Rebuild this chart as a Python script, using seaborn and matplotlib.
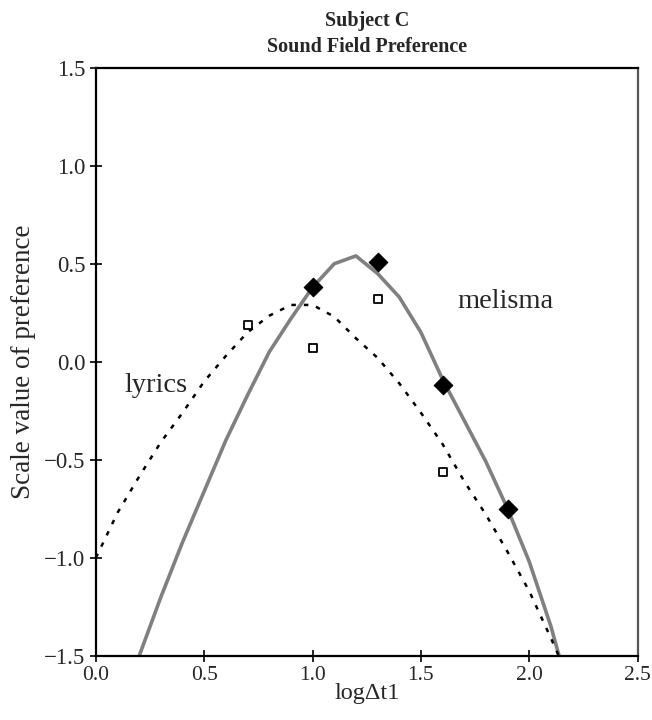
#Subject C - sound field preference
#Import required libraries
import numpy as np
import pandas as pd
import matplotlib
matplotlib.use('Agg')
import matplotlib.pyplot as plt
import seaborn as sns

#Theoretical curves, read at steps of 0.1 in log(dt1)
melisma_x = [0.2, 0.3, 0.4, 0.5, 0.6, 0.7, 0.8, 0.9, 1.0, 1.1, 1.2, 1.3, 1.4, 1.5, 1.6, 1.7, 1.8, 1.9, 2.0, 2.1, 2.2]
melisma_y = [-1.50, -1.20, -0.92, -0.66, -0.40, -0.17, 0.05, 0.22, 0.38, 0.50, 0.54, 0.45, 0.33, 0.15, -0.09, -0.30, -0.51, -0.75, -1.02, -1.35, -1.75]

lyrics_x = [0.0, 0.1, 0.2, 0.3, 0.4, 0.5, 0.6, 0.7, 0.8, 0.9, 1.0, 1.1, 1.2, 1.3, 1.4, 1.5, 1.6, 1.7, 1.8, 1.9, 2.0, 2.1, 2.2]
lyrics_y = [-1.00, -0.77, -0.585, -0.41, -0.26, -0.10, 0.03, 0.15, 0.235, 0.29, 0.29, 0.23, 0.12, 0.02, -0.11, -0.26, -0.42, -0.61, -0.78, -0.97, -1.17, -1.41, -1.66]

#Measured scale values
obs_x = [0.7, 1.0, 1.3, 1.6, 1.9]
melisma_obs = [np.nan, 0.38, 0.51, -0.12, -0.75]
lyrics_obs = [0.19, 0.07, 0.32, -0.56, np.nan]

curves = pd.DataFrame({'x': melisma_x + lyrics_x, 'y': melisma_y + lyrics_y,
                       'song': ['melisma'] * len(melisma_x) + ['lyrics'] * len(lyrics_x)})
points = pd.DataFrame({'x': obs_x, 'melisma': melisma_obs, 'lyrics': lyrics_obs})

#Graph style
sns.set_style('white')
plt.rcParams['font.family'] = ['Liberation Serif', 'DejaVu Serif']
plt.rc('xtick', labelsize=15.5)
plt.rc('ytick', labelsize=16.5)

fig = plt.figure(figsize=(6.52, 7.2), dpi=100)
ax = fig.add_axes([0.147, 0.089, 0.831, 0.817])

sns.lineplot(x='x', y='y', data=curves[curves.song == 'melisma'], color='#808080',
             linewidth=2.6, ax=ax, sort=False)
sns.lineplot(x='x', y='y', data=curves[curves.song == 'lyrics'], color='black',
             linewidth=1.8, linestyle=(0, (1.8, 3.2)), ax=ax, sort=False)
sns.scatterplot(x='x', y='melisma', data=points, marker='D', s=90, color='black',
                edgecolor='black', ax=ax, zorder=5)
sns.scatterplot(x='x', y='lyrics', data=points, marker='s', s=38, color='white',
                edgecolor='black', linewidth=1.3, ax=ax, zorder=5)

ax.text(0.28, -0.12, 'lyrics', fontsize=20.5, ha='center', va='center')
ax.text(1.89, 0.31, 'melisma', fontsize=20.5, ha='center', va='center')

ax.set_xlim(0, 2.5)
ax.set_ylim(-1.5, 1.5)
ax.set_xticks(np.arange(0, 2.51, 0.5))
ax.set_yticks(np.arange(-1.5, 1.51, 0.5))
fmt = matplotlib.ticker.FuncFormatter(lambda v, pos: ('%.1f' % v).replace('-', '\u2212'))
ax.xaxis.set_major_formatter(fmt)
ax.yaxis.set_major_formatter(fmt)
ax.tick_params(direction='inout', length=9, width=1.2, color='black', bottom=True, left=True, pad=3)
ax.set_xlabel('logΔt1', fontsize=17.5, labelpad=-2)
ax.set_ylabel('Scale value of preference', fontsize=19.5, labelpad=6)
ax.set_title('Subject C\nSound Field Preference', fontsize=14.5, fontweight='bold', pad=11,
             linespacing=1.45)

for side in ['left', 'bottom', 'top']:
    ax.spines[side].set_color('black')
    ax.spines[side].set_linewidth(1.6)
ax.spines['right'].set_color('#555555')
ax.spines['right'].set_linewidth(1.6)

plt.savefig('out.png', dpi=100)
